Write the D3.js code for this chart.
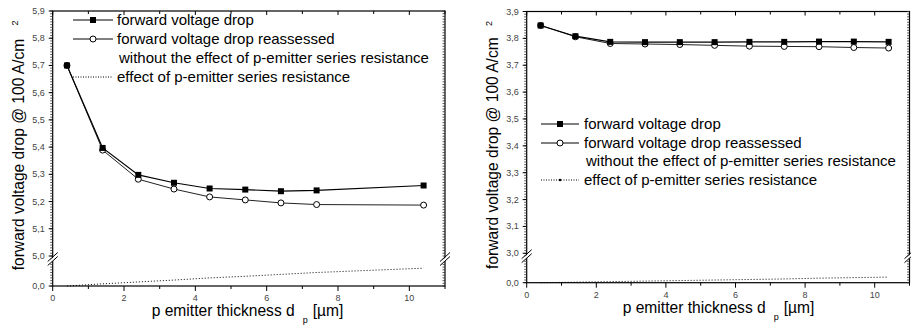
<!DOCTYPE html>
<html>
<head>
<meta charset="utf-8">
<script src="https://cdn.jsdelivr.net/npm/d3@7"></script>
<style>
  body { margin: 0; background: #fff; }
  svg { font-family: "Liberation Sans", Arial, sans-serif; }
</style>
</head>
<body>
<svg id="chart" width="911" height="325"></svg>
<script>
// left panel data
const thicknessLeft = [0.4, 1.4, 2.4, 3.4, 4.4, 5.4, 6.4, 7.4, 10.4];
const vfLeft = [5.700, 5.397, 5.298, 5.269, 5.248, 5.244, 5.238, 5.241, 5.259];
const vfReLeft = [5.700, 5.389, 5.282, 5.246, 5.217, 5.206, 5.195, 5.189, 5.187];
const effectLeft = [0.000, 0.008, 0.015, 0.022, 0.030, 0.036, 0.043, 0.050, 0.066];
const yTicksLeft = [0, 5.0, 5.1, 5.2, 5.3, 5.4, 5.5, 5.6, 5.7, 5.8, 5.9];

// right panel data
const thicknessRight = [0.4, 1.4, 2.4, 3.4, 4.4, 5.4, 6.4, 7.4, 8.4, 9.4, 10.4];
const vfRight = [3.848, 3.808, 3.787, 3.786, 3.786, 3.786, 3.787, 3.787, 3.788, 3.788, 3.787];
const vfReRight = [3.848, 3.806, 3.781, 3.779, 3.777, 3.774, 3.771, 3.770, 3.769, 3.766, 3.764];
const effectRight = [0.000, 0.002, 0.004, 0.006, 0.008, 0.010, 0.012, 0.014, 0.017, 0.019, 0.021];
const yTicksRight = [0, 3.0, 3.1, 3.2, 3.3, 3.4, 3.5, 3.6, 3.7, 3.8, 3.9];

const xTicks = [0, 2, 4, 6, 8, 10];
const legendLabels = ['forward voltage drop', 'forward voltage drop reassessed',
  'without the effect of p-emitter series resistance', 'effect of p-emitter series resistance'];

const svg = d3.select('#chart');
const fmt = v => d3.format('.1f')(v).replace('.', ',');

function drawPanel(p) {
  const g = svg.append('g');
  const x = d3.scaleLinear().domain([0, 11]).range([p.left, p.right]);
  const y = d3.scaleLinear().domain(p.yDomain).range(p.yRange);
  const top = p.yRange[3], bottom = p.yRange[0];

  // frame
  g.append('rect').attr('x', p.left).attr('y', top)
    .attr('width', p.right - p.left).attr('height', bottom - top)
    .attr('fill', 'none').attr('stroke', '#000').attr('stroke-width', 1.2);

  // minor y ticks (0.01 steps) on left (outward) and right (inward)
  const minor = [];
  for (let i = 0; i <= 10; i++) minor.push(p.yDomain[0] + i * 0.01);
  for (let i = 0; i <= 90; i++) minor.push(p.yDomain[2] + i * 0.01);
  g.selectAll('.ymin').data(minor).enter().append('line')
    .attr('x1', p.left - 2.5).attr('x2', p.left)
    .attr('y1', d => y(d)).attr('y2', d => y(d))
    .attr('stroke', '#333').attr('stroke-width', 0.8);
  g.selectAll('.ymin2').data(minor).enter().append('line')
    .attr('x1', p.right - 2.5).attr('x2', p.right)
    .attr('y1', d => y(d)).attr('y2', d => y(d))
    .attr('stroke', '#333').attr('stroke-width', 0.8);

  // major y ticks + labels
  g.selectAll('.ymaj').data(p.yTicks).enter().append('line')
    .attr('x1', p.left - 4).attr('x2', p.left)
    .attr('y1', d => y(d)).attr('y2', d => y(d))
    .attr('stroke', '#000');
  g.selectAll('.ylab').data(p.yTicks).enter().append('text')
    .attr('x', p.left - 8).attr('y', d => y(d) + 3)
    .attr('text-anchor', 'end').attr('font-size', 9).attr('fill', '#444')
    .text(fmt);

  // x ticks
  const xAll = d3.range(0, 12);
  g.selectAll('.xb').data(xAll).enter().append('line')
    .attr('x1', d => x(d)).attr('x2', d => x(d))
    .attr('y1', bottom).attr('y2', d => bottom + (d % 2 === 0 ? 5 : 3))
    .attr('stroke', '#000');
  g.selectAll('.xt').data(xAll).enter().append('line')
    .attr('x1', d => x(d)).attr('x2', d => x(d))
    .attr('y1', top).attr('y2', d => top + (d % 2 === 0 ? 4 : 3))
    .attr('stroke', '#000');
  g.selectAll('.xlab').data(xTicks).enter().append('text')
    .attr('x', d => x(d)).attr('y', bottom + 15)
    .attr('text-anchor', 'middle').attr('font-size', 9).attr('fill', '#444')
    .text(d => d);

  // axis breaks
  const yb = (y(p.yDomain[1]) + y(p.yDomain[2])) / 2;
  [p.left, p.right].forEach(cx => {
    g.append('polygon')
      .attr('points', `${cx - 5},${yb + 5} ${cx + 5},${yb - 4} ${cx + 5},${yb - 1} ${cx - 5},${yb + 8}`)
      .attr('fill', '#fff');
    g.append('line').attr('x1', cx - 5).attr('y1', yb + 4).attr('x2', cx + 5).attr('y2', yb - 5)
      .attr('stroke', '#000');
    g.append('line').attr('x1', cx - 5).attr('y1', yb + 8).attr('x2', cx + 5).attr('y2', yb - 1)
      .attr('stroke', '#000');
  });

  // series
  const line = d3.line().x(d => x(d[0])).y(d => y(d[1]));
  const s1 = p.xs.map((v, i) => [v, p.vf[i]]);
  const s2 = p.xs.map((v, i) => [v, p.vfRe[i]]);
  const s3 = p.xs.map((v, i) => [v, p.effect[i]]);

  g.append('path').datum(s3).attr('d', line).attr('fill', 'none')
    .attr('stroke', '#000').attr('stroke-width', 1).attr('stroke-dasharray', '1,2');
  g.append('path').datum(s2).attr('d', line).attr('fill', 'none')
    .attr('stroke', '#222').attr('stroke-width', 1);
  g.append('path').datum(s1).attr('d', line).attr('fill', 'none')
    .attr('stroke', '#000').attr('stroke-width', 1.2);
  g.selectAll('.c').data(s2).enter().append('circle')
    .attr('cx', d => x(d[0])).attr('cy', d => y(d[1])).attr('r', 3)
    .attr('fill', '#fff').attr('stroke', '#000');
  g.selectAll('.sq').data(s1).enter().append('rect')
    .attr('x', d => x(d[0]) - 3).attr('y', d => y(d[1]) - 3)
    .attr('width', 6).attr('height', 6).attr('fill', '#000');

  // legend
  const L = p.legend;
  const rows = L.rows;
  g.append('line').attr('x1', L.x1).attr('x2', L.x2).attr('y1', rows[0]).attr('y2', rows[0])
    .attr('stroke', '#000');
  g.append('rect').attr('x', (L.x1 + L.x2) / 2 - 3).attr('y', rows[0] - 3)
    .attr('width', 6).attr('height', 6).attr('fill', '#000');
  g.append('line').attr('x1', L.x1).attr('x2', L.x2).attr('y1', rows[1]).attr('y2', rows[1])
    .attr('stroke', '#000');
  g.append('circle').attr('cx', (L.x1 + L.x2) / 2).attr('cy', rows[1]).attr('r', 3)
    .attr('fill', '#fff').attr('stroke', '#000');
  g.append('line').attr('x1', L.x1).attr('x2', L.x2).attr('y1', rows[3]).attr('y2', rows[3])
    .attr('stroke', '#000').attr('stroke-dasharray', '1,1.5');
  if (L.dotMarker) {
    g.append('circle').attr('cx', (L.x1 + L.x2) / 2).attr('cy', rows[3]).attr('r', 1.2)
      .attr('fill', '#000');
  }
  legendLabels.forEach((t, i) => {
    g.append('text').attr('x', L.tx + (i === 2 ? 2 : 0)).attr('y', rows[i] + 5)
      .attr('font-size', 15).attr('fill', '#000').text(t);
  });

  // axis titles
  const yMid = (top + bottom) / 2 + 6;
  g.append('text').attr('transform', `translate(${p.left - 29},${yMid}) rotate(-90)`)
    .attr('text-anchor', 'middle').attr('font-size', 15.6).text('forward voltage drop @ 100 A/cm');
  g.append('text').attr('transform', `translate(${p.left - 35},${top + 12}) rotate(-90)`)
    .attr('text-anchor', 'middle').attr('font-size', 9).text('2');

  const xt = g.append('text').attr('x', p.left + p.xTitleOff).attr('y', bottom + 30)
    .attr('font-size', 15.6);
  xt.append('tspan').text('p emitter thickness d');
  xt.append('tspan').attr('dx', 8).attr('dy', 7).attr('font-size', 9).text('p');
  xt.append('tspan').attr('dx', 5).attr('dy', -7).text('[µm]');
}

drawPanel({
  left: 52.7, right: 445,
  yDomain: [0, 0.1, 5.0, 5.9], yRange: [286, 259, 256, 11],
  yTicks: yTicksLeft,
  xs: thicknessLeft, vf: vfLeft, vfRe: vfReLeft, effect: effectLeft,
  legend: { x1: 73, x2: 113, tx: 117, rows: [20, 39, 58, 77], dotMarker: false },
  xTitleOff: 99
});

drawPanel({
  left: 526.7, right: 909.5,
  yDomain: [0, 0.1, 3.0, 3.9], yRange: [282.7, 256, 253.3, 11.5],
  yTicks: yTicksRight,
  xs: thicknessRight, vf: vfRight, vfRe: vfReRight, effect: effectRight,
  legend: { x1: 541, x2: 579, tx: 584, rows: [124, 143, 161, 180], dotMarker: true },
  xTitleOff: 96
});
</script>
</body>
</html>
